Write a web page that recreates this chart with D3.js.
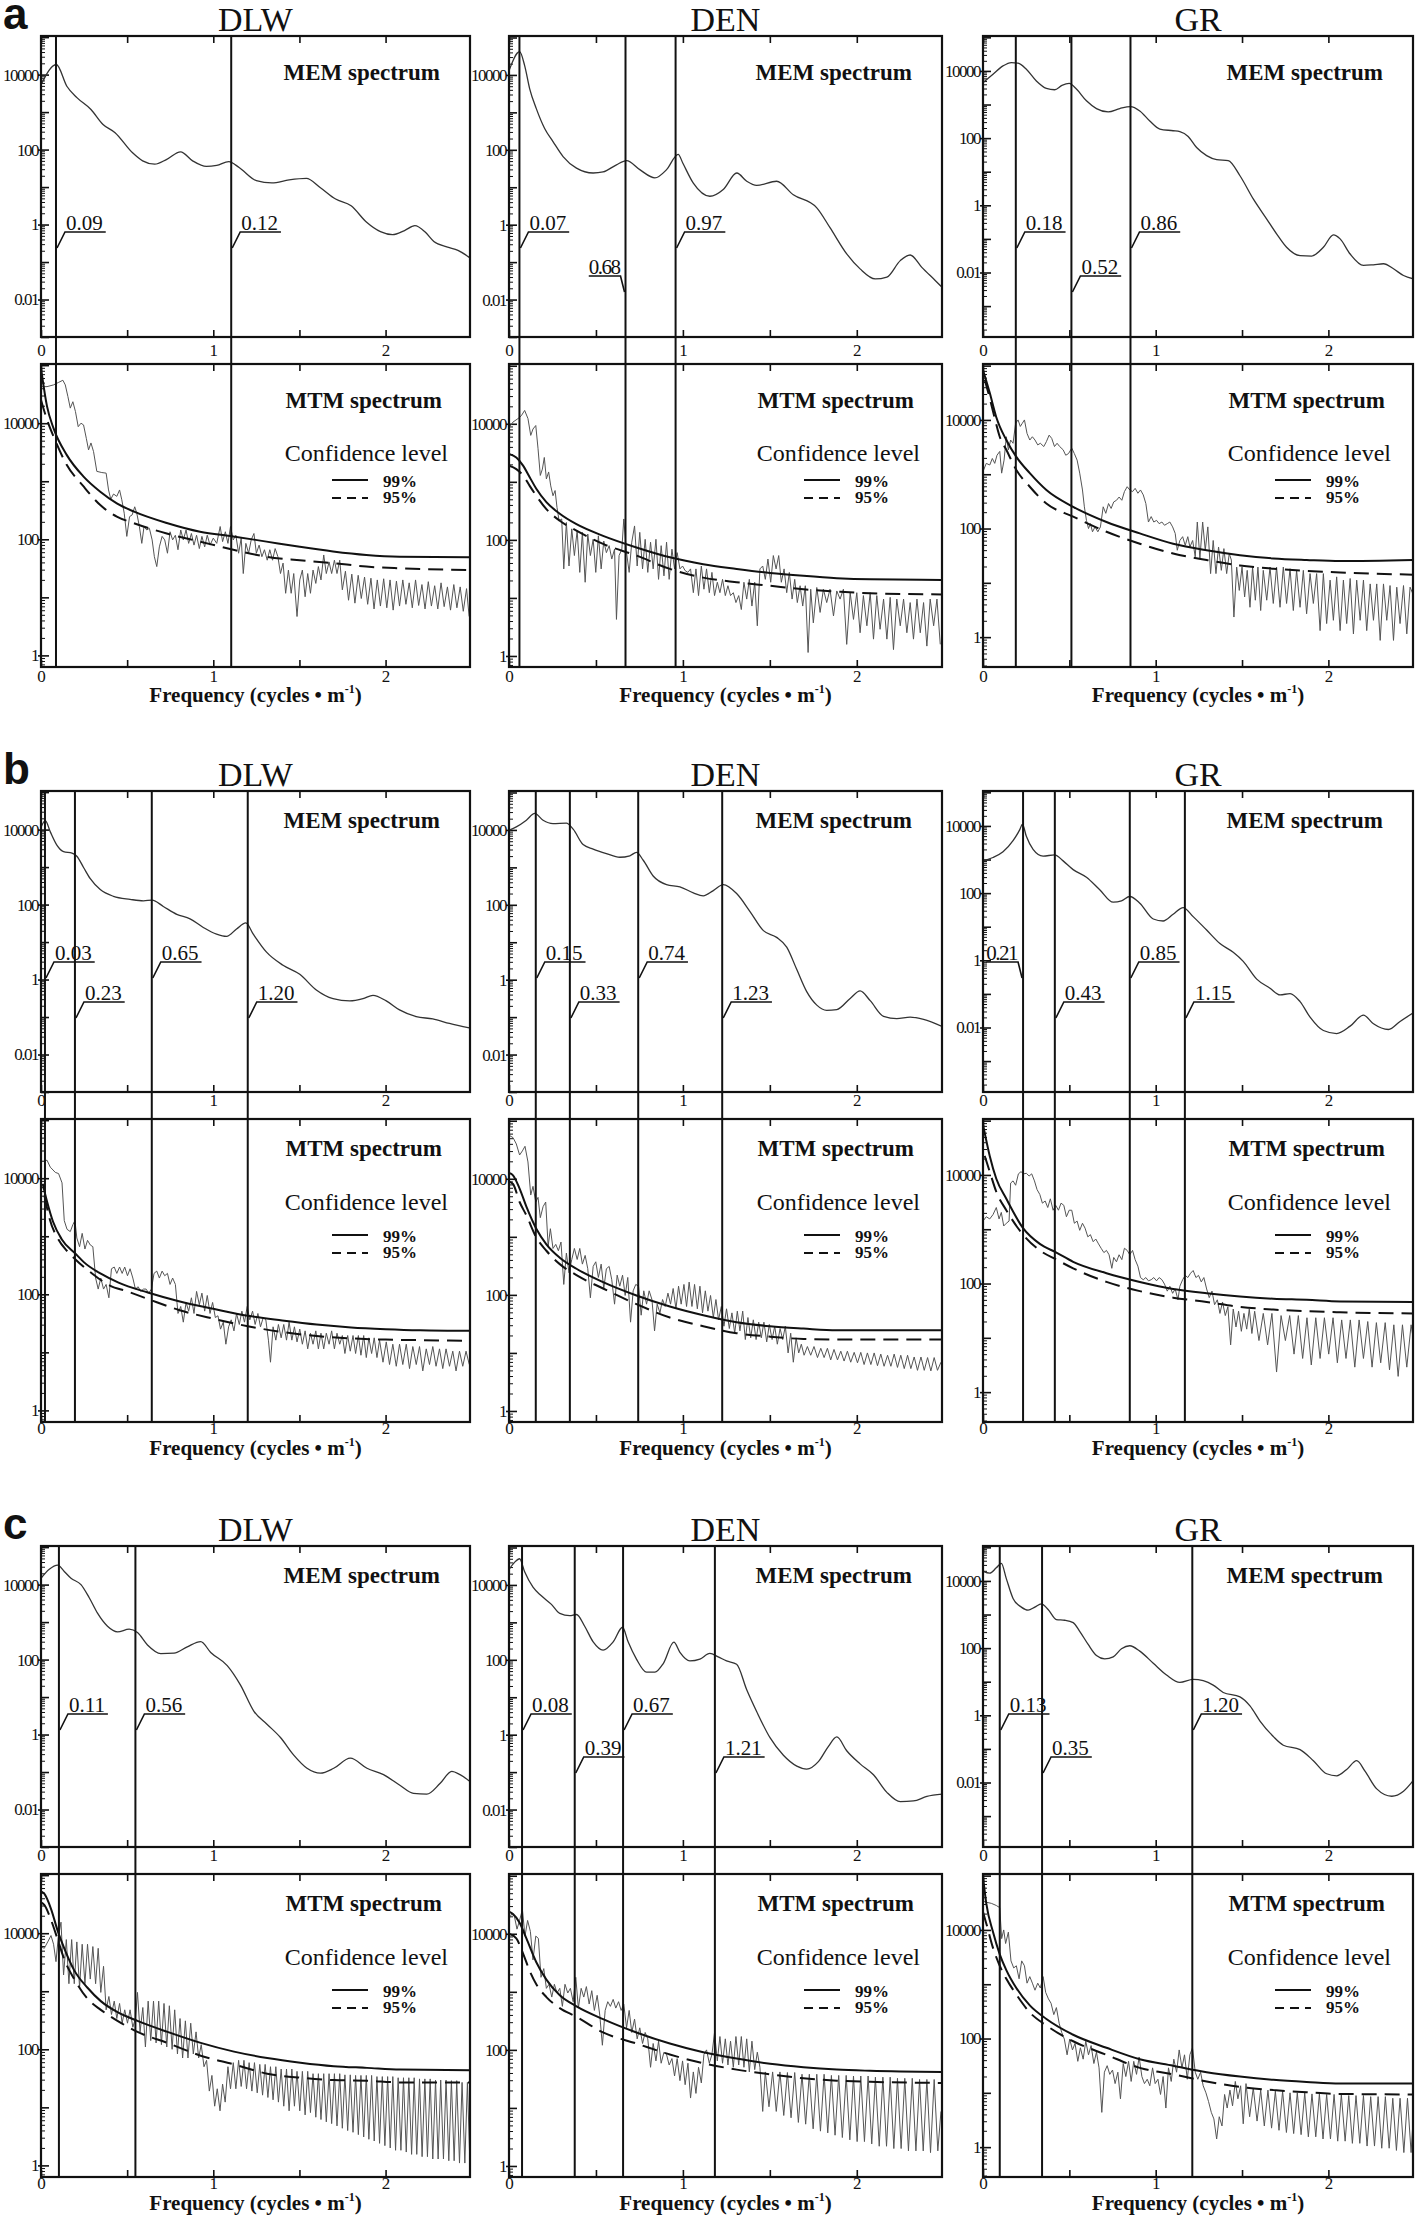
<!DOCTYPE html>
<html>
<head>
<meta charset="utf-8">
<script src="https://cdn.jsdelivr.net/npm/d3@7"></script>
<style>
body{margin:0;background:#fff}
svg{display:block}
text{font-family:"Liberation Serif","Times New Roman",serif;fill:#111}
.rowlab{font-family:"Liberation Sans",Arial,sans-serif;font-weight:bold;font-size:44px}
.site{font-size:34px;text-anchor:middle}
.ttl{font-size:23px;font-weight:bold;text-anchor:end}
.conf{font-size:24px;text-anchor:end}
.pct{font-size:17px;font-weight:bold}
.call{font-size:21px}
.freq{font-size:21px;font-weight:bold;text-anchor:middle}
</style>
</head>
<body>
<svg id="chart" width="1418" height="2217"></svg>
<script>
// all spectra, y values are log10(power)
var rowNames = ["a", "b", "c"];
var sites = ["DLW", "DEN", "GR"];
var xTickVals = [0, 0.5, 1, 1.5, 2];
var memLabTicks = [4, 2, 0, -2], memLabs = ["10000", "100", "1", "0.01"];
var mtmLabTicks = [4, 2, 0], mtmLabs = ["10000", "100", "1"];

// ---- MEM spectra
var mem_a_DLW = [[0,3.73],[.089,4.27],[.15,3.69],[.21,3.38],[.29,3.07],[.36,2.67],[.43,2.45],[.53,1.92],[.59,1.7],[.66,1.61],[.73,1.74],[.81,1.94],[.88,1.7],[.96,1.55],[1.02,1.58],[1.09,1.68],[1.15,1.52],[1.25,1.17],[1.34,1.11],[1.44,1.19],[1.54,1.23],[1.62,.99],[1.71,.68],[1.8,.5],[1.89,.06],[1.97,-.19],[2.04,-.27],[2.11,-.16],[2.17,-.03],[2.23,-.2],[2.28,-.45],[2.36,-.6],[2.42,-.69],[2.49,-.89]];
var mem_a_DEN = [[0,4.11],[.061,4.62],[.09,4.25],[.119,3.63],[.157,3.1],[.205,2.57],[.253,2.22],[.311,1.82],[.388,1.51],[.484,1.38],[.541,1.41],[.618,1.6],[.676,1.71],[.752,1.47],[.839,1.25],[.906,1.47],[.973,1.88],[1,1.64],[1.06,1.11],[1.155,.76],[1.232,.94],[1.31,1.38],[1.367,1.16],[1.424,1.05],[1.539,1.16],[1.635,.8],[1.77,.45],[1.846,-.08],[1.942,-.78],[2.019,-1.18],[2.106,-1.45],[2.173,-1.4],[2.25,-.96],[2.307,-.81],[2.374,-1.14],[2.451,-1.49],[2.49,-1.67]];
var mem_a_GR = [[0,3.65],[.058,3.9],[.116,4.15],[.164,4.25],[.203,4.23],[.251,4.05],[.309,3.7],[.367,3.48],[.415,3.44],[.457,3.57],[.499,3.63],[.541,3.46],[.599,3.11],[.657,2.88],[.725,2.78],[.792,2.88],[.854,2.94],[.908,2.81],[.966,2.51],[1.024,2.27],[1.101,2.22],[1.14,2.19],[1.188,2.05],[1.237,1.72],[1.295,1.48],[1.353,1.36],[1.42,1.33],[1.488,.88],[1.565,.19],[1.643,-.41],[1.7,-.85],[1.758,-1.25],[1.836,-1.5],[1.903,-1.51],[1.971,-1.25],[2.029,-.88],[2.068,-1],[2.126,-1.45],[2.203,-1.79],[2.261,-1.77],[2.319,-1.74],[2.377,-1.89],[2.435,-2.09],[2.493,-2.19]];
var mem_b_DLW = [[0,4.06],[.025,4.24],[.054,3.94],[.093,3.58],[.131,3.41],[.18,3.37],[.208,3.29],[.247,2.99],[.286,2.69],[.344,2.4],[.421,2.22],[.517,2.14],[.595,2.1],[.645,2.12],[.71,1.95],[.788,1.74],[.865,1.62],[.942,1.39],[1.019,1.21],[1.077,1.15],[1.135,1.35],[1.189,1.51],[1.232,1.21],[1.309,.73],[1.405,.38],[1.502,.14],[1.598,-.28],[1.695,-.51],[1.792,-.57],[1.869,-.51],[1.927,-.42],[2.004,-.57],[2.081,-.81],[2.178,-.99],[2.274,-1.05],[2.371,-1.17],[2.486,-1.29]];
var mem_b_DEN = [[0,3.99],[.042,4.08],[.1,4.26],[.148,4.44],[.196,4.26],[.253,4.17],[.33,4.18],[.369,4.02],[.426,3.61],[.484,3.49],[.56,3.37],[.637,3.27],[.695,3.31],[.733,3.4],[.772,3.19],[.829,2.77],[.906,2.54],[.983,2.48],[1.06,2.32],[1.117,2.24],[1.175,2.38],[1.232,2.54],[1.309,2.3],[1.386,1.82],[1.463,1.31],[1.539,1.13],[1.597,.87],[1.655,.27],[1.712,-.32],[1.77,-.68],[1.827,-.82],[1.885,-.8],[1.962,-.5],[2.019,-.3],[2.077,-.56],[2.154,-.98],[2.23,-1.04],[2.307,-1],[2.384,-1.06],[2.49,-1.25]];
var mem_b_GR = [[0,2.96],[.058,3.06],[.116,3.23],[.174,3.56],[.213,3.89],[.228,4.05],[.251,3.69],[.29,3.3],[.348,3.1],[.415,3.14],[.464,2.96],[.522,2.7],[.599,2.47],[.676,2.1],[.754,1.73],[.802,1.77],[.85,1.9],[.908,1.7],[.986,1.23],[1.043,1.17],[1.101,1.37],[1.159,1.57],[1.217,1.3],[1.295,.9],[1.372,.5],[1.449,.24],[1.507,-.03],[1.585,-.56],[1.662,-.83],[1.72,-1.03],[1.778,-.99],[1.836,-1.23],[1.894,-1.69],[1.971,-2.09],[2.048,-2.18],[2.126,-1.96],[2.203,-1.63],[2.261,-1.89],[2.348,-2.06],[2.415,-1.82],[2.493,-1.56]];
var mem_c_DLW = [[0,4.17],[.048,4.41],[.097,4.52],[.135,4.35],[.174,4.17],[.232,4],[.28,3.65],[.328,3.24],[.386,2.89],[.444,2.74],[.512,2.81],[.56,2.72],[.618,2.39],[.695,2.16],[.772,2.17],[.849,2.34],[.927,2.48],[.985,2.19],[1.081,1.84],[1.158,1.32],[1.236,.62],[1.313,.27],[1.39,-.08],[1.467,-.55],[1.544,-.9],[1.622,-1.03],[1.699,-.9],[1.795,-.63],[1.892,-.9],[1.988,-1.07],[2.085,-1.36],[2.162,-1.57],[2.239,-1.59],[2.317,-1.3],[2.384,-.98],[2.432,-1.07],[2.486,-1.24]];
var mem_c_DEN = [[0,4.41],[.033,4.61],[.061,4.7],[.09,4.35],[.138,3.94],[.186,3.71],[.244,3.48],[.292,3.24],[.349,3.18],[.388,3.21],[.436,2.89],[.484,2.48],[.541,2.26],[.599,2.48],[.653,2.87],[.685,2.48],[.733,2.02],[.791,1.67],[.839,1.67],[.887,1.9],[.948,2.47],[.983,2.2],[1.04,1.97],[1.098,2.02],[1.155,2.17],[1.203,2.08],[1.251,1.97],[1.309,1.88],[1.367,1.2],[1.424,.62],[1.501,-.08],[1.578,-.55],[1.655,-.84],[1.712,-.92],[1.779,-.72],[1.837,-.31],[1.885,-.06],[1.942,-.43],[2.019,-.78],[2.096,-1.07],[2.173,-1.54],[2.25,-1.79],[2.326,-1.77],[2.403,-1.65],[2.49,-1.59]];
var mem_c_GR = [[0,4.29],[.039,4.23],[.077,4.39],[.106,4.52],[.135,4.07],[.174,3.48],[.222,3.22],[.261,3.13],[.3,3.22],[.338,3.32],[.377,3.15],[.425,2.85],[.473,2.83],[.522,2.76],[.56,2.5],[.609,2.11],[.657,1.78],[.705,1.68],[.754,1.74],[.802,1.98],[.85,2.07],[.908,1.91],[.986,1.55],[1.063,1.2],[1.14,.98],[1.217,1.07],[1.275,1.03],[1.333,.9],[1.391,.68],[1.488,.55],[1.546,.28],[1.604,-.17],[1.681,-.63],[1.739,-.89],[1.836,-1.02],[1.913,-1.35],[1.99,-1.74],[2.048,-1.8],[2.106,-1.61],[2.164,-1.35],[2.213,-1.67],[2.28,-2.19],[2.367,-2.41],[2.435,-2.26],[2.493,-1.93]];

// ---- MTM spectra
var mtm_a_DLW = [[0,4.63],[.035,4.63],[.073,4.66],[.1,4.7],[.127,4.74],[.141,4.66],[.156,4.46],[.17,4.26],[.185,4.37],[.2,4.2],[.216,3.94],[.232,4],[.247,3.97],[.263,3.74],[.276,3.54],[.29,3.66],[.305,3.51],[.324,3.17],[.353,3.15],[.378,3.14],[.392,2.85],[.405,2.69],[.421,2.78],[.44,2.74],[.456,2.85],[.469,2.68],[.483,2.45],[.498,2.05],[.514,2.39],[.529,2.42],[.544,2.56],[.556,2.45],[.571,2.22],[.585,1.93],[.598,2.22],[.614,2.16],[.629,2.19],[.645,1.99],[.658,1.7],[.672,1.53],[.687,1.87],[.703,2.05],[.718,1.99],[.734,1.76],[.749,2.13],[.764,1.99],[.78,2.07],[.795,1.82],[.811,2.16],[.826,1.99],[.842,2.16],[.857,1.93],[.873,2.1],[.888,1.9],[.903,2.07],[.919,1.84],[.934,2.05],[.95,1.87],[.965,2.07],[.981,1.9],[1,2.02],[1.02,1.93],[1.04,2.22],[1.054,1.96],[1.07,2.13],[1.085,1.93],[1.1,2.22],[1.116,1.99],[1.131,2.07],[1.147,1.76],[1.162,2.02],[1.174,1.41],[1.189,1.93],[1.205,1.76],[1.22,1.99],[1.236,2.1],[1.25,1.76],[1.266,1.9],[1.282,1.7],[1.297,1.82],[1.313,1.64],[1.328,1.82],[1.344,1.64],[1.359,1.84],[1.375,1.7],[1.39,1.41],[1.405,1.59],[1.42,1.07],[1.436,1.47],[1.452,1.07],[1.467,1.41],[1.486,.67],[1.502,1.3],[1.517,1.47],[1.533,1.01],[1.548,1.41],[1.564,1.07],[1.579,1.47],[1.595,1.24],[1.61,1.53],[1.625,1.3],[1.641,1.73],[1.656,1.41],[1.672,1.61],[1.687,1.41],[1.703,1.64],[1.718,1.41],[1.734,1.64],[1.749,1.13],[1.767,1.45],[1.785,.95],[1.804,1.4],[1.822,.9],[1.841,1.38],[1.859,.98],[1.878,1.35],[1.896,.88],[1.915,1.33],[1.933,.8],[1.952,1.3],[1.97,.85],[1.989,1.32],[2.007,.82],[2.026,1.3],[2.044,.78],[2.063,1.28],[2.081,.85],[2.1,1.3],[2.118,.88],[2.137,1.25],[2.155,.82],[2.174,1.3],[2.192,.86],[2.211,1.22],[2.229,.8],[2.248,1.27],[2.266,.85],[2.285,1.2],[2.303,.8],[2.322,1.25],[2.34,.84],[2.359,1.18],[2.377,.78],[2.396,1.22],[2.414,.82],[2.433,1.18],[2.451,.76],[2.47,1.15],[2.485,.67]];
var mtm_a_DEN = [[0,3.94],[.023,4.03],[.052,4.09],[.071,4.14],[.09,4.23],[.109,4.09],[.125,3.8],[.138,3.91],[.154,3.97],[.167,3.57],[.18,3.11],[.192,3.22],[.203,3.42],[.215,3.05],[.228,3.17],[.24,2.93],[.253,2.76],[.265,2.85],[.276,2.56],[.288,2.33],[.303,2.36],[.315,1.5],[.33,2.3],[.345,1.55],[.361,2.19],[.376,1.73],[.392,2.16],[.407,1.44],[.422,2.13],[.438,1.27],[.453,2.1],[.468,1.73],[.484,2.01],[.499,1.44],[.514,2.07],[.53,1.5],[.545,1.98],[.56,1.78],[.576,1.9],[.591,1.67],[.607,1.84],[.618,.63],[.633,1.73],[.649,1.84],[.66,2.36],[.676,1.78],[.691,1.44],[.706,1.96],[.722,2.24],[.737,1.55],[.752,2.13],[.768,1.5],[.783,2.01],[.798,1.44],[.814,1.96],[.829,1.5],[.845,2.01],[.86,1.32],[.875,1.9],[.891,1.38],[.906,1.96],[.921,1.32],[.937,1.84],[.952,1.5],[.967,1.78],[.983,1.5],[.998,1.55],[1.013,1.47],[1.029,1.44],[1.044,1.5],[1.06,1.09],[1.075,1.5],[1.09,1.04],[1.106,1.55],[1.121,1.15],[1.136,1.5],[1.152,1.09],[1.167,1.44],[1.182,1.04],[1.198,1.27],[1.213,1.09],[1.228,1.32],[1.244,1.04],[1.259,1.21],[1.274,1.04],[1.29,1.09],[1.305,.92],[1.321,1.04],[1.336,.8],[1.351,1.27],[1.367,.98],[1.382,1.32],[1.397,.86],[1.413,1.27],[1.428,.52],[1.443,1.5],[1.459,1.55],[1.474,1.32],[1.489,1.67],[1.505,1.27],[1.52,1.73],[1.536,1.5],[1.551,1.73],[1.566,1.27],[1.582,1.5],[1.597,1.09],[1.612,1.44],[1.628,.98],[1.643,1.32],[1.658,.92],[1.674,1.21],[1.689,.86],[1.704,1.21],[1.72,.06],[1.735,1.15],[1.75,.57],[1.77,1.18],[1.789,.75],[1.808,1.15],[1.827,.92],[1.846,1.15],[1.866,.69],[1.885,1.12],[1.904,.98],[1.923,1.15],[1.942,.2],[1.962,1.09],[1.981,.63],[2,1.09],[2.019,.4],[2.038,1.04],[2.058,.52],[2.077,1.09],[2.096,.29],[2.115,1.04],[2.134,.46],[2.154,.98],[2.173,.29],[2.192,1.01],[2.211,.11],[2.23,.98],[2.25,.52],[2.269,.98],[2.288,.4],[2.307,.92],[2.326,.29],[2.346,.98],[2.365,.4],[2.384,.92],[2.403,.17],[2.422,.98],[2.442,.52],[2.461,.98],[2.48,.2]];
var mtm_a_GR = [[0,3.05],[.019,3.2],[.039,3.17],[.054,3.29],[.068,3.2],[.081,3.35],[.097,3.42],[.108,3.02],[.122,3.26],[.135,3.69],[.147,3.45],[.16,3.63],[.174,3.57],[.189,3.94],[.203,4],[.216,3.88],[.228,3.94],[.24,4],[.255,3.75],[.271,3.63],[.286,3.69],[.301,3.63],[.317,3.54],[.332,3.57],[.352,3.51],[.367,3.6],[.383,3.72],[.398,3.66],[.414,3.51],[.429,3.57],[.444,3.51],[.464,3.45],[.479,3.35],[.495,3.38],[.514,3.48],[.529,3.38],[.545,3.26],[.56,3.02],[.576,2.71],[.587,2.4],[.599,2.15],[.611,2],[.622,2.09],[.634,1.94],[.649,2.03],[.665,1.94],[.68,2.03],[.696,2.4],[.711,2.28],[.727,2.46],[.742,2.37],[.757,2.49],[.773,2.52],[.788,2.58],[.804,2.52],[.819,2.68],[.835,2.77],[.85,2.71],[.866,2.68],[.881,2.74],[.897,2.65],[.912,2.71],[.928,2.62],[.943,2.46],[.958,2.12],[.974,2.22],[.989,2.12],[1.005,2.15],[1.02,2.09],[1.036,2.12],[1.051,2.06],[1.067,2.09],[1.082,2.12],[1.098,2.03],[1.113,1.91],[1.125,1.6],[1.14,1.78],[1.156,1.85],[1.171,1.69],[1.186,1.85],[1.198,1.66],[1.214,1.78],[1.229,1.48],[1.241,2.12],[1.256,1.45],[1.272,2.12],[1.287,1.6],[1.302,2.03],[1.318,1.17],[1.333,1.78],[1.349,1.17],[1.364,1.66],[1.38,1.23],[1.395,1.63],[1.411,1.17],[1.426,1.54],[1.438,1.42],[1.453,.37],[1.469,1.29],[1.484,.86],[1.5,1.29],[1.515,.74],[1.53,1.23],[1.546,.55],[1.561,1.29],[1.577,.68],[1.592,1.29],[1.608,.49],[1.623,1.23],[1.643,.68],[1.662,1.29],[1.681,.62],[1.7,1.29],[1.72,.55],[1.739,1.29],[1.758,.62],[1.778,1.26],[1.797,.49],[1.816,1.23],[1.836,.55],[1.855,1.23],[1.874,.43],[1.894,1.17],[1.913,.62],[1.932,1.17],[1.952,.12],[1.971,1.17],[1.99,.25],[2.01,1.05],[2.029,.31],[2.048,1.11],[2.068,.12],[2.087,1.05],[2.106,.25],[2.126,1.08],[2.145,.06],[2.164,1.05],[2.184,.31],[2.203,1.05],[2.222,.12],[2.242,.98],[2.261,.31],[2.28,.98],[2.3,-.06],[2.319,.98],[2.338,.31],[2.357,.95],[2.377,-.06],[2.396,.92],[2.415,.25],[2.435,.95],[2.454,.06],[2.473,.92],[2.489,.8]];
var mtm_b_DLW = [[.02,4.3],[.035,4.31],[.054,4.19],[.083,4.1],[.102,4.08],[.122,3.92],[.135,3.27],[.151,3.12],[.17,3.08],[.185,3.2],[.197,3.27],[.208,2.97],[.224,2.82],[.239,3.05],[.255,2.78],[.27,2.93],[.286,2.85],[.301,2.82],[.317,2.28],[.332,2.09],[.347,2.28],[.363,2.09],[.378,2.17],[.394,1.94],[.409,2.44],[.425,2.47],[.44,2.36],[.456,2.47],[.471,2.36],[.486,2.47],[.502,2.32],[.517,2.44],[.533,2.28],[.548,2.09],[.564,2.13],[.579,2.05],[.595,2.09],[.61,2.09],[.625,2.02],[.641,2.09],[.656,2.36],[.672,2.4],[.687,2.28],[.703,2.4],[.718,2.32],[.734,2.36],[.749,2.17],[.764,2.28],[.78,2.17],[.795,1.67],[.811,1.79],[.826,1.52],[.842,1.86],[.857,1.71],[.873,1.94],[.888,1.67],[.903,2.05],[.919,1.82],[.934,2.02],[.95,1.71],[.965,1.98],[.981,1.67],[.996,1.86],[1.012,1.6],[1.027,1.63],[1.042,1.4],[1.058,1.52],[1.073,1.14],[1.089,1.44],[1.104,1.56],[1.12,1.37],[1.135,1.67],[1.151,1.48],[1.166,1.71],[1.181,1.52],[1.197,1.79],[1.212,1.56],[1.228,1.71],[1.243,1.48],[1.259,1.67],[1.274,1.44],[1.29,1.6],[1.305,1.56],[1.32,1.21],[1.332,.83],[1.347,1.44],[1.363,1.21],[1.378,1.48],[1.394,1.25],[1.409,1.48],[1.425,1.21],[1.44,1.52],[1.456,1.21],[1.471,1.44],[1.486,1.18],[1.502,1.4],[1.517,1.14],[1.533,1.37],[1.548,1.06],[1.564,1.33],[1.579,1.14],[1.595,1.37],[1.61,1.06],[1.625,1.33],[1.641,1.06],[1.656,1.33],[1.672,1.14],[1.687,1.37],[1.703,1.06],[1.718,1.33],[1.734,1.14],[1.749,1.29],[1.764,.98],[1.78,1.29],[1.795,1.02],[1.811,1.29],[1.826,.98],[1.842,1.29],[1.857,.95],[1.873,1.29],[1.888,.91],[1.903,1.25],[1.919,.98],[1.934,1.25],[1.95,.91],[1.965,1.21],[1.985,.83],[2.004,1.18],[2.023,.79],[2.042,1.14],[2.062,.76],[2.081,1.14],[2.1,.79],[2.12,1.14],[2.139,.72],[2.158,1.1],[2.178,.79],[2.197,1.1],[2.216,.68],[2.236,1.06],[2.255,.79],[2.274,1.1],[2.293,.76],[2.313,1.06],[2.332,.72],[2.351,1.06],[2.371,.76],[2.39,1.02],[2.409,.68],[2.429,1.02],[2.448,.76],[2.467,1.02],[2.486,.79]];
var mtm_b_DEN = [[0,4.75],[.023,4.71],[.042,4.6],[.061,4.41],[.077,4.48],[.092,4.56],[.109,4.29],[.125,3.72],[.138,3.87],[.154,3.6],[.167,3.68],[.18,3.33],[.196,3.52],[.211,3.6],[.225,2.84],[.238,3.14],[.253,2.8],[.269,2.87],[.284,2.76],[.299,2.91],[.315,2.18],[.33,2.72],[.345,2.38],[.361,2.61],[.376,2.8],[.392,2.61],[.407,2.8],[.422,2.53],[.438,2.68],[.453,2.45],[.468,1.95],[.484,2.49],[.499,2.57],[.514,2.3],[.53,2.53],[.545,2.11],[.56,2.45],[.576,2.49],[.591,2.26],[.607,1.84],[.622,2.34],[.637,2.15],[.653,2.34],[.668,1.99],[.683,2.3],[.699,1.53],[.714,2.07],[.729,2.18],[.745,2.15],[.76,1.65],[.775,2.07],[.791,1.84],[.806,2.07],[.822,1.92],[.837,1.38],[.852,1.84],[.868,1.69],[.883,1.92],[.898,1.8],[.914,2.03],[.929,1.84],[.944,2.11],[.96,1.76],[.975,2.15],[.99,1.84],[1.006,2.18],[1.021,1.8],[1.036,2.22],[1.052,1.8],[1.067,2.18],[1.083,1.76],[1.098,2.15],[1.113,1.69],[1.129,2.07],[1.144,1.72],[1.159,1.99],[1.175,1.61],[1.19,1.92],[1.205,1.57],[1.221,1.8],[1.236,1.46],[1.251,1.76],[1.267,1.42],[1.282,1.69],[1.298,1.34],[1.313,1.72],[1.328,1.38],[1.344,1.72],[1.359,1.23],[1.374,1.61],[1.39,1.26],[1.405,1.57],[1.421,1.23],[1.436,1.53],[1.451,1.26],[1.466,1.53],[1.482,1.19],[1.497,1.49],[1.513,1.23],[1.528,1.46],[1.543,1.15],[1.559,1.42],[1.574,1.23],[1.589,1.46],[1.605,1],[1.62,1.34],[1.635,.84],[1.651,1.26],[1.666,1],[1.681,1.15],[1.697,.96],[1.716,1.11],[1.735,.96],[1.754,1.11],[1.774,.92],[1.793,1.08],[1.812,.92],[1.831,1.08],[1.85,.88],[1.869,1.06],[1.889,.88],[1.908,1.03],[1.927,.86],[1.946,1.03],[1.965,.84],[1.985,1.01],[2.004,.83],[2.023,1.01],[2.042,.8],[2.061,1],[2.081,.8],[2.1,1],[2.119,.78],[2.138,.98],[2.157,.77],[2.177,.96],[2.196,.77],[2.215,.98],[2.234,.75],[2.253,.96],[2.273,.73],[2.292,.96],[2.311,.73],[2.33,.93],[2.349,.7],[2.369,.93],[2.388,.7],[2.407,.92],[2.426,.69],[2.445,.92],[2.464,.7],[2.484,.84]];
var mtm_b_GR = [[0,3.15],[.019,3.23],[.039,3.19],[.058,3.27],[.077,3.4],[.093,3.19],[.106,3.31],[.12,3.06],[.135,3.11],[.151,3.15],[.16,3.85],[.174,3.89],[.189,3.81],[.205,4.02],[.22,4.06],[.236,4.02],[.251,4.03],[.267,3.98],[.282,4.02],[.298,3.89],[.313,3.73],[.329,3.64],[.344,3.48],[.36,3.52],[.375,3.4],[.39,3.56],[.406,3.35],[.421,3.44],[.437,3.35],[.452,3.48],[.468,3.44],[.483,3.23],[.499,3.35],[.514,3.35],[.529,3.11],[.545,3.15],[.56,2.98],[.576,3.11],[.591,3.02],[.607,2.86],[.622,2.9],[.638,2.77],[.653,2.82],[.669,2.73],[.684,2.65],[.7,2.57],[.715,2.61],[.73,2.53],[.746,2.28],[.757,2.48],[.773,2.4],[.788,2.53],[.804,2.44],[.819,2.65],[.835,2.61],[.85,2.53],[.866,2.61],[.881,2.44],[.897,2.32],[.912,2.11],[.928,2.07],[.943,2.11],[.958,2.05],[.974,2.07],[.989,2.11],[1.005,2.05],[1.02,2.11],[1.036,2.07],[1.051,1.99],[1.067,1.86],[1.082,1.95],[1.098,1.82],[1.113,1.9],[1.129,1.7],[1.14,1.95],[1.156,2.07],[1.171,2.15],[1.186,2.11],[1.202,2.19],[1.217,2.24],[1.233,2.11],[1.248,2.15],[1.264,2.03],[1.279,2.11],[1.295,1.9],[1.31,1.74],[1.326,1.86],[1.341,1.61],[1.357,1.7],[1.372,1.45],[1.387,1.66],[1.403,1.41],[1.418,1.57],[1.434,.87],[1.449,1.53],[1.465,1.2],[1.48,1.49],[1.496,1.12],[1.511,1.45],[1.527,1.16],[1.542,1.53],[1.557,1.08],[1.573,1.49],[1.598,.95],[1.623,1.45],[1.648,.87],[1.673,1.45],[1.7,.37],[1.726,1.41],[1.751,.95],[1.776,1.41],[1.801,.7],[1.826,1.41],[1.851,.62],[1.876,1.37],[1.901,.5],[1.927,1.37],[1.952,.62],[1.977,1.37],[2.002,.7],[2.027,1.37],[2.052,.54],[2.077,1.33],[2.102,.62],[2.127,1.33],[2.153,.46],[2.178,1.33],[2.203,.62],[2.228,1.3],[2.253,.46],[2.278,1.28],[2.303,.54],[2.329,1.28],[2.354,.41],[2.379,1.24],[2.404,.29],[2.429,1.24],[2.454,.46],[2.479,1.24],[2.493,.95]];
var mtm_c_DLW = [[0,3.77],[.019,3.74],[.039,3.85],[.058,3.96],[.073,3.81],[.087,3.51],[.1,3.92],[.116,4.19],[.131,3.28],[.147,3.89],[.162,3.13],[.178,3.89],[.193,3.13],[.208,3.85],[.224,3.06],[.239,3.81],[.255,3.13],[.27,3.81],[.286,3.21],[.301,3.77],[.317,3.13],[.332,3.74],[.347,2.98],[.363,3.43],[.378,2.68],[.394,2.91],[.409,2.6],[.425,2.83],[.44,2.53],[.456,2.79],[.471,2.45],[.486,2.68],[.502,2.45],[.517,2.68],[.533,2.38],[.548,2.53],[.56,2.98],[.575,2.3],[.591,2.72],[.606,2.04],[.622,2.83],[.637,2.15],[.653,2.83],[.668,2.11],[.683,2.83],[.699,2.08],[.714,2.79],[.73,2.04],[.745,2.75],[.761,2],[.776,2.68],[.792,1.92],[.807,2.53],[.822,1.85],[.838,2.49],[.853,1.85],[.869,2.45],[.884,1.92],[.9,2.3],[.915,1.85],[.93,2.08],[.946,1.7],[.961,1.81],[.977,1.28],[.992,1.55],[1.008,1.02],[1.023,1.32],[1.039,.94],[1.054,1.4],[1.069,1.09],[1.085,1.7],[1.1,1.32],[1.116,1.77],[1.131,1.32],[1.147,1.81],[1.162,1.36],[1.178,1.81],[1.193,1.32],[1.208,1.77],[1.224,1.28],[1.239,1.77],[1.255,1.25],[1.27,1.74],[1.286,1.21],[1.301,1.74],[1.317,1.17],[1.332,1.7],[1.347,1.13],[1.363,1.7],[1.378,1.09],[1.394,1.66],[1.409,1.02],[1.425,1.66],[1.44,.94],[1.456,1.66],[1.471,1.02],[1.486,1.62],[1.502,.94],[1.517,1.62],[1.533,.87],[1.548,1.62],[1.564,.91],[1.579,1.58],[1.595,.83],[1.61,1.58],[1.625,.79],[1.641,1.58],[1.656,.75],[1.672,1.58],[1.687,.72],[1.703,1.58],[1.718,.68],[1.734,1.58],[1.749,.64],[1.764,1.56],[1.78,.6],[1.795,1.56],[1.811,.57],[1.826,1.55],[1.842,.53],[1.857,1.55],[1.873,.49],[1.888,1.55],[1.903,.45],[1.919,1.55],[1.934,.42],[1.95,1.53],[1.965,.38],[1.981,1.53],[1.996,.34],[2.012,1.53],[2.027,.3],[2.042,1.53],[2.058,.26],[2.073,1.51],[2.089,.26],[2.104,1.51],[2.12,.23],[2.135,1.51],[2.151,.19],[2.166,1.51],[2.181,.19],[2.197,1.49],[2.212,.15],[2.228,1.49],[2.243,.15],[2.259,1.49],[2.274,.11],[2.29,1.47],[2.305,.11],[2.32,1.47],[2.336,.11],[2.351,1.47],[2.367,.08],[2.382,1.46],[2.398,.08],[2.413,1.46],[2.429,.04],[2.444,1.43],[2.46,.04],[2.475,1.43],[2.49,-.04]];
var mtm_c_DEN = [[0,4.26],[.015,4.34],[.031,4.3],[.046,4.08],[.061,4.23],[.077,4.42],[.092,3.96],[.107,4.23],[.123,4.04],[.138,3.55],[.154,3.96],[.169,3.92],[.184,3.25],[.2,3.4],[.215,3.06],[.23,3.13],[.246,2.91],[.261,3.13],[.276,2.98],[.292,3.06],[.307,2.75],[.322,3.13],[.338,2.98],[.353,3.06],[.369,2.83],[.384,3.25],[.399,2.72],[.415,3.06],[.43,2.91],[.445,3.09],[.461,2.79],[.476,3.02],[.491,2.68],[.507,2.94],[.522,2.6],[.537,2.08],[.553,2.68],[.568,2.83],[.583,2.75],[.599,2.87],[.614,2.72],[.63,2.83],[.645,2.68],[.66,2.79],[.676,2.38],[.691,2.68],[.706,2.3],[.722,2.53],[.737,2.19],[.752,2.38],[.768,2.11],[.783,2.3],[.798,2.19],[.814,1.7],[.829,2.11],[.845,1.81],[.86,2.15],[.875,1.77],[.891,1.96],[.906,1.92],[.921,1.74],[.937,1.85],[.952,1.55],[.967,1.85],[.983,1.47],[.998,1.81],[1.013,1.4],[1.029,1.77],[1.044,1.17],[1.06,1.62],[1.075,1.25],[1.09,1.7],[1.106,1.43],[1.121,1.92],[1.136,2],[1.152,1.77],[1.167,1.92],[1.182,2.3],[1.198,1.81],[1.213,2.23],[1.228,1.77],[1.244,2.19],[1.259,1.74],[1.274,2.15],[1.29,1.7],[1.305,2.23],[1.321,1.74],[1.336,2.23],[1.351,1.7],[1.367,2.19],[1.382,1.62],[1.397,2.15],[1.413,1.66],[1.428,1.96],[1.443,1.7],[1.459,.94],[1.474,1.62],[1.495,1.02],[1.516,1.62],[1.537,.94],[1.558,1.62],[1.58,.87],[1.601,1.61],[1.622,.83],[1.643,1.61],[1.664,.75],[1.685,1.58],[1.706,.72],[1.727,1.58],[1.749,.64],[1.77,1.58],[1.791,.6],[1.812,1.58],[1.833,.57],[1.854,1.56],[1.875,.53],[1.896,1.56],[1.917,.49],[1.939,1.56],[1.96,.45],[1.981,1.55],[2.002,.42],[2.023,1.55],[2.044,.42],[2.065,1.55],[2.086,.38],[2.107,1.53],[2.129,.34],[2.15,1.53],[2.171,.34],[2.192,1.53],[2.213,.3],[2.234,1.51],[2.255,.3],[2.276,1.51],[2.297,.26],[2.319,1.51],[2.34,.26],[2.361,1.49],[2.382,.26],[2.403,1.49],[2.424,.23],[2.445,1.49],[2.466,.26],[2.484,.94]];
var mtm_c_GR = [[0,4.53],[.019,4.51],[.048,4.49],[.077,4.45],[.097,4.41],[.108,3.84],[.12,4],[.131,3.75],[.147,3.96],[.162,3.43],[.178,3.3],[.193,3.34],[.209,3.1],[.224,3.43],[.24,3.34],[.255,3.02],[.271,3.14],[.286,3.02],[.301,2.89],[.317,3.02],[.332,2.93],[.348,3.14],[.363,2.85],[.379,2.73],[.394,2.65],[.41,2.44],[.425,2.57],[.441,2.28],[.456,2.11],[.471,1.99],[.487,1.7],[.502,1.99],[.518,1.79],[.533,1.91],[.549,1.58],[.564,1.83],[.58,1.62],[.595,1.95],[.611,1.7],[.626,1.87],[.642,1.54],[.657,1.75],[.672,1.46],[.688,.64],[.703,1.38],[.719,1.5],[.734,1.34],[.75,1.42],[.765,1.17],[.781,1.38],[.796,.89],[.812,1.54],[.827,1.3],[.843,1.58],[.858,1.21],[.873,1.58],[.889,1.34],[.904,1.66],[.92,1.3],[.935,1.17],[.951,1.25],[.966,1.13],[.982,1.46],[.997,1.17],[1.013,1.25],[1.028,.97],[1.043,1.3],[1.059,.72],[1.074,1.46],[1.09,1.21],[1.105,1.62],[1.121,1.38],[1.136,1.79],[1.152,1.46],[1.167,1.7],[1.183,1.25],[1.198,1.7],[1.213,1.83],[1.229,1.38],[1.244,1.25],[1.26,1.38],[1.275,1.13],[1.291,1],[1.306,.84],[1.322,.64],[1.337,.52],[1.353,.15],[1.368,.56],[1.384,.39],[1.399,.97],[1.414,.72],[1.43,1.05],[1.445,.76],[1.461,1.21],[1.476,.89],[1.492,1.13],[1.507,.43],[1.523,1.17],[1.544,.56],[1.565,1.09],[1.587,.48],[1.608,1.05],[1.629,.39],[1.65,1.05],[1.671,.35],[1.693,1.03],[1.714,.31],[1.735,1.03],[1.757,.27],[1.778,1],[1.799,.25],[1.82,1],[1.842,.23],[1.863,1],[1.884,.19],[1.905,.98],[1.927,.19],[1.948,.98],[1.969,.15],[1.99,.97],[2.012,.15],[2.033,.97],[2.054,.11],[2.075,.97],[2.097,.11],[2.118,.95],[2.139,.07],[2.16,.95],[2.182,.07],[2.203,.95],[2.224,.02],[2.245,.93],[2.267,.02],[2.288,.93],[2.309,-.02],[2.33,.93],[2.352,-.02],[2.373,.9],[2.394,-.06],[2.415,.9],[2.437,-.1],[2.458,.9],[2.479,-.1],[2.493,.64]];

// ---- MTM confidence levels (99% solid, 95% dashed)
var c99_a_DLW = [[0,4.95],[.035,4.29],[.073,3.91],[.15,3.45],[.247,3.08],[.344,2.82],[.44,2.62],[.537,2.48],[.73,2.28],[.923,2.13],[1.116,2.05],[1.309,1.96],[1.502,1.87],[1.695,1.79],[1.888,1.73],[2.081,1.7],[2.486,1.69]];
var c95_a_DLW = [[0,4.4],[.035,4.06],[.073,3.77],[.15,3.28],[.247,2.91],[.344,2.59],[.44,2.39],[.537,2.28],[.73,2.1],[.923,1.96],[1.116,1.82],[1.309,1.7],[1.502,1.64],[1.695,1.59],[1.888,1.53],[2.081,1.5],[2.486,1.47]];
var c99_a_DEN = [[0,3.48],[.042,3.42],[.081,3.28],[.119,3.08],[.157,2.88],[.215,2.65],[.292,2.45],[.388,2.27],[.541,2.07],[.733,1.87],[.925,1.7],[1.117,1.58],[1.309,1.5],[1.501,1.43],[1.693,1.38],[1.885,1.34],[2.077,1.32],[2.49,1.31]];
var c95_a_DEN = [[0,3.28],[.042,3.22],[.081,3.11],[.119,2.93],[.157,2.76],[.215,2.53],[.292,2.33],[.388,2.16],[.541,1.93],[.733,1.73],[.925,1.5],[1.117,1.35],[1.309,1.27],[1.501,1.21],[1.693,1.15],[1.885,1.11],[2.077,1.08],[2.49,1.06]];
var c99_a_GR = [[0,4.92],[.039,4.5],[.077,4.05],[.135,3.63],[.193,3.32],[.271,3.02],[.367,2.71],[.522,2.4],[.715,2.12],[.908,1.91],[1.101,1.72],[1.295,1.6],[1.488,1.51],[1.681,1.45],[1.874,1.42],[2.068,1.4],[2.493,1.42]];
var c95_a_GR = [[.01,4.74],[.039,4.4],[.068,4.03],[.097,3.69],[.135,3.45],[.193,3.08],[.271,2.77],[.367,2.46],[.522,2.22],[.715,1.94],[.908,1.72],[1.101,1.54],[1.295,1.42],[1.488,1.32],[1.681,1.26],[1.874,1.22],[2.068,1.19],[2.493,1.15]];
var c99_b_DLW = [[.01,3.9],[.035,3.6],[.07,3.25],[.12,2.95],[.2,2.7],[.25,2.55],[.35,2.35],[.45,2.2],[.62,2.03],[.8,1.88],[1,1.75],[1.2,1.63],[1.4,1.55],[1.6,1.48],[1.8,1.43],[2,1.4],[2.2,1.38],[2.49,1.37]];
var c95_b_DLW = [[.02,3.7],[.05,3.3],[.1,2.95],[.15,2.75],[.2,2.6],[.3,2.35],[.4,2.15],[.5,2.05],[.62,1.92],[.8,1.73],[1,1.58],[1.2,1.45],[1.4,1.35],[1.6,1.28],[1.8,1.24],[2,1.22],[2.2,1.21],[2.49,1.2]];
var c99_b_DEN = [[0,4.1],[.023,4.06],[.061,3.83],[.1,3.52],[.157,3.14],[.215,2.87],[.292,2.64],[.388,2.45],[.541,2.22],[.733,1.99],[.925,1.8],[1.117,1.65],[1.309,1.53],[1.501,1.46],[1.693,1.42],[1.885,1.39],[2.49,1.39]];
var c95_b_DEN = [[0,3.95],[.023,3.91],[.061,3.6],[.1,3.37],[.157,2.99],[.215,2.76],[.292,2.53],[.388,2.34],[.541,2.11],[.733,1.84],[.925,1.61],[1.117,1.46],[1.309,1.34],[1.501,1.28],[1.693,1.24],[1.885,1.23],[2.49,1.23]];
var c99_b_GR = [[0,4.93],[.039,4.35],[.077,3.93],[.135,3.56],[.232,3.02],[.329,2.73],[.425,2.57],[.522,2.4],[.715,2.19],[.908,2.03],[1.101,1.9],[1.295,1.82],[1.488,1.76],[1.681,1.72],[1.874,1.7],[2.068,1.67],[2.493,1.66]];
var c95_b_GR = [[.01,4.35],[.039,4.06],[.077,3.69],[.135,3.35],[.232,2.9],[.329,2.61],[.425,2.44],[.522,2.28],[.715,2.03],[.908,1.86],[1.101,1.74],[1.295,1.66],[1.488,1.57],[1.681,1.52],[1.874,1.49],[2.068,1.47],[2.493,1.45]];
var c99_c_DLW = [[0,4.72],[.019,4.68],[.058,4.42],[.097,4.04],[.135,3.74],[.193,3.36],[.27,3.06],[.347,2.83],[.444,2.64],[.56,2.49],[.734,2.3],[.927,2.11],[1.12,1.96],[1.313,1.85],[1.506,1.77],[1.699,1.71],[1.892,1.68],[2.085,1.65],[2.49,1.64]];
var c95_c_DLW = [[0,4.53],[.019,4.49],[.058,4.23],[.097,3.89],[.135,3.55],[.193,3.21],[.27,2.87],[.347,2.68],[.444,2.49],[.56,2.3],[.734,2.11],[.927,1.89],[1.12,1.74],[1.313,1.58],[1.506,1.51],[1.699,1.47],[1.892,1.46],[2.085,1.43],[2.49,1.43]];
var c99_c_DEN = [[0,4.38],[.023,4.34],[.061,4.19],[.1,3.92],[.157,3.51],[.215,3.21],[.292,2.94],[.388,2.75],[.541,2.53],[.733,2.3],[.925,2.11],[1.117,1.96],[1.309,1.85],[1.501,1.76],[1.693,1.7],[1.885,1.66],[2.077,1.64],[2.49,1.62]];
var c95_c_DEN = [[0,4],[.042,3.92],[.081,3.66],[.119,3.36],[.157,3.13],[.215,2.91],[.292,2.72],[.388,2.57],[.541,2.3],[.733,2.11],[.925,1.92],[1.117,1.77],[1.309,1.66],[1.501,1.58],[1.693,1.51],[1.885,1.47],[2.077,1.45],[2.49,1.43]];
var c99_c_GR = [[0,4.98],[.019,4.49],[.058,3.96],[.097,3.55],[.135,3.26],[.193,2.93],[.271,2.61],[.367,2.36],[.522,2.07],[.715,1.83],[.908,1.62],[1.101,1.5],[1.295,1.38],[1.488,1.3],[1.681,1.24],[1.874,1.2],[2.068,1.17],[2.493,1.17]];
var c95_c_GR = [[0,4.33],[.019,4.12],[.058,3.67],[.097,3.34],[.135,3.1],[.193,2.81],[.271,2.48],[.367,2.24],[.522,1.95],[.715,1.7],[.908,1.46],[1.101,1.34],[1.295,1.21],[1.488,1.11],[1.681,1.05],[1.874,1.01],[2.068,.98],[2.493,.97]];

// ---- marked frequencies: [frequency, label, 0 = upper / 1 = lower tag, side]
var mk_a_DLW = [[.087,"0.09",0,1],[1.104,"0.12",0,1]];
var mk_a_DEN = [[.06,"0.07",0,1],[.67,"0.68",1,-1],[.958,"0.97",0,1]];
var mk_a_GR = [[.19,"0.18",0,1],[.512,"0.52",1,1],[.854,"0.86",0,1]];
var mk_b_DLW = [[.023,"0.03",0,1],[.197,"0.23",1,1],[.643,"0.65",0,1],[1.2,"1.20",1,1]];
var mk_b_DEN = [[.154,"0.15",0,1],[.35,"0.33",1,1],[.743,"0.74",0,1],[1.226,"1.23",1,1]];
var mk_b_GR = [[.232,"0.21",0,-1],[.416,"0.43",1,1],[.85,"0.85",0,1],[1.169,"1.15",1,1]];
var mk_c_DLW = [[.104,"0.11",0,1],[.548,"0.56",0,1]];
var mk_c_DEN = [[.075,"0.08",0,1],[.378,"0.39",1,1],[.656,"0.67",0,1],[1.184,"1.21",1,1]];
var mk_c_GR = [[.097,"0.13",0,1],[.342,"0.35",1,1],[1.212,"1.20",0,1]];

var table = {
  a: {DLW:[mem_a_DLW,mtm_a_DLW,c99_a_DLW,c95_a_DLW,mk_a_DLW], DEN:[mem_a_DEN,mtm_a_DEN,c99_a_DEN,c95_a_DEN,mk_a_DEN], GR:[mem_a_GR,mtm_a_GR,c99_a_GR,c95_a_GR,mk_a_GR]},
  b: {DLW:[mem_b_DLW,mtm_b_DLW,c99_b_DLW,c95_b_DLW,mk_b_DLW], DEN:[mem_b_DEN,mtm_b_DEN,c99_b_DEN,c95_b_DEN,mk_b_DEN], GR:[mem_b_GR,mtm_b_GR,c99_b_GR,c95_b_GR,mk_b_GR]},
  c: {DLW:[mem_c_DLW,mtm_c_DLW,c99_c_DLW,c95_c_DLW,mk_c_DLW], DEN:[mem_c_DEN,mtm_c_DEN,c99_c_DEN,c95_c_DEN,mk_c_DEN], GR:[mem_c_GR,mtm_c_GR,c99_c_GR,c95_c_GR,mk_c_GR]}
};

// axis ranges (log10) per site
var memDom = {DLW:[-3,5.03], DEN:[-3,5.04], GR:[-3.92,5.04]};
var mtmDom = {DLW:[-0.2,5.02], DEN:[-0.19,5.03], GR:[-0.55,5.03]};
var fMax = 2.49;

// layout
var cols = [{x0:41,x1:470},{x0:509,x1:942},{x0:983,x1:1413}];
var rowTop = [36, 791, 1546];
var memH = 301, gapH = 27, mtmH = 303;
var rowLay = [
  {title:44, conf:97, up:196, low:240, padM:7, padT:3, fl:35},
  {title:37, conf:91, up:171, low:211, padM:2, padT:0, fl:33},
  {title:37, conf:91, up:168, low:211, padM:2, padT:0, fl:33}
];

var svg = d3.select("#chart");
var p10 = function(v){ return Math.pow(10, v); };
var clipN = 0;

function clean(sel, size) {
  sel.select(".domain").remove();
  sel.selectAll(".tick line").attr("stroke", "#111").attr("stroke-width", 1.6);
  sel.attr("font-family", "Liberation Serif, Times New Roman, serif").attr("font-size", size || 18);
  sel.selectAll(".tick text").attr("fill", "#111");
}

function panel(g, x, y, t, b, labV, labT, pad) {
  var x0 = x.range()[0], x1 = x.range()[1];
  g.append("g").attr("transform", "translate(0," + b + ")")
    .call(d3.axisBottom(x).tickValues(xTickVals).tickSizeInner(-7).tickSizeOuter(0).tickPadding(pad)
      .tickFormat(function(v){ return v % 1 === 0 ? v : ""; }))
    .call(clean, 17);
  g.append("g").attr("transform", "translate(0," + t + ")")
    .call(d3.axisTop(x).tickValues(xTickVals).tickSizeInner(-7).tickSizeOuter(0).tickFormat(""))
    .call(clean);
  var dom = y.domain().map(Math.log10), minor = [], major = [];
  for (var k = Math.floor(dom[0]); k <= Math.ceil(dom[1]); k++) {
    for (var m = 1; m <= 9; m++) {
      var lv = Math.log10(m) + k;
      if (lv < dom[0] || lv > dom[1]) continue;
      (m === 1 ? major : minor).push(m * p10(k));
    }
  }
  g.append("g").attr("transform", "translate(" + x0 + ",0)")
    .call(d3.axisLeft(y).tickValues(minor).tickSizeInner(-4).tickSizeOuter(0).tickFormat(""))
    .call(clean).selectAll(".tick line").attr("stroke-width", 1);
  g.append("g").attr("transform", "translate(" + x0 + ",0)")
    .call(d3.axisLeft(y).tickValues(major).tickSizeInner(-8).tickSizeOuter(0).tickFormat(""))
    .call(clean);
  var lab = g.append("g").attr("transform", "translate(" + x0 + ",0)")
    .call(d3.axisLeft(y).tickValues(labV.map(p10)).tickSizeInner(3).tickSizeOuter(0).tickPadding(0)
      .tickFormat(function(d, i){ return labT[i]; }))
    .call(clean, 17);
  lab.selectAll(".tick text").attr("letter-spacing", "-1.5px");
  var id = "clip" + (clipN++);
  g.append("clipPath").attr("id", id).append("rect")
    .attr("x", x0).attr("y", t).attr("width", x1 - x0).attr("height", b - t);
  return id;
}

rowNames.forEach(function(r, ri) {
  var top = rowTop[ri], lay = rowLay[ri];
  var memB = top + memH, mt = memB + gapH, mb = mt + mtmH;
  svg.append("text").attr("class", "rowlab").attr("x", 3).attr("y", top - 7).text(r);

  sites.forEach(function(s, ci) {
    var d = table[r][s], c = cols[ci];
    var x = d3.scaleLinear().domain([0, fMax]).range([c.x0, c.x1]);
    var ym = d3.scaleLog().domain(memDom[s].map(p10)).range([memB, top]);
    var yt = d3.scaleLog().domain(mtmDom[s].map(p10)).range([mb, mt]);
    var g = svg.append("g");

    g.append("text").attr("class", "site").attr("x", (c.x0 + c.x1) / 2).attr("y", top - 5).text(s);

    var clipM = panel(g, x, ym, top, memB, memLabTicks, memLabs, lay.padM);
    var clipT = panel(g, x, yt, mt, mb, mtmLabTicks, mtmLabs, lay.padT);

    // MEM curve
    var lineM = d3.line().x(function(p){ return x(p[0]); }).y(function(p){ return ym(p10(p[1])); }).curve(d3.curveMonotoneX);
    g.append("path").attr("d", lineM(d[0])).attr("clip-path", "url(#" + clipM + ")")
      .attr("fill", "none").attr("stroke", "#333").attr("stroke-width", 1.3);

    // MTM curve + confidence
    var lineT = d3.line().x(function(p){ return x(p[0]); }).y(function(p){ return yt(p10(p[1])); });
    var lineC = d3.line().x(function(p){ return x(p[0]); }).y(function(p){ return yt(p10(p[1])); }).curve(d3.curveMonotoneX);
    g.append("path").attr("d", lineT(d[1])).attr("clip-path", "url(#" + clipT + ")")
      .attr("fill", "none").attr("stroke", "#555").attr("stroke-width", 1).attr("stroke-linejoin", "round");
    g.append("path").attr("d", lineC(d[2])).attr("clip-path", "url(#" + clipT + ")")
      .attr("fill", "none").attr("stroke", "#111").attr("stroke-width", 2);
    g.append("path").attr("d", lineC(d[3])).attr("clip-path", "url(#" + clipT + ")")
      .attr("fill", "none").attr("stroke", "#111").attr("stroke-width", 2).attr("stroke-dasharray", "15,8");

    // frames
    [[top, memB], [mt, mb]].forEach(function(tb) {
      g.append("rect").attr("x", c.x0).attr("y", tb[0]).attr("width", c.x1 - c.x0).attr("height", tb[1] - tb[0])
        .attr("fill", "none").attr("stroke", "#111").attr("stroke-width", 2.2);
    });

    // marked frequencies
    d[4].forEach(function(m) {
      var xl = x(m[0]), yu = top + (m[2] ? lay.low : lay.up), sd = m[3];
      g.append("line").attr("x1", xl).attr("x2", xl).attr("y1", top).attr("y2", mb)
        .attr("stroke", "#111").attr("stroke-width", 2);
      var elbow = xl + sd * (sd > 0 ? 9 : 5);
      var tx = g.append("text").attr("class", "call").attr("y", yu - 2).text(m[1]);
      if (sd < 0) tx.attr("letter-spacing", "-1.5px");
      var w = tx.node().getComputedTextLength();
      var far = elbow + sd * (w + (sd > 0 ? 4 : 1));
      tx.attr("x", sd > 0 ? elbow + 1 : far);
      g.append("path").attr("d", "M" + (xl + sd) + "," + (yu + 16) + "L" + elbow + "," + yu + "L" + far + "," + yu)
        .attr("fill", "none").attr("stroke", "#111").attr("stroke-width", 1.6);
    });

    // panel texts
    g.append("text").attr("class", "ttl").attr("x", c.x1 - 30).attr("y", top + lay.title).text("MEM spectrum");
    g.append("text").attr("class", "ttl").attr("x", c.x1 - 28).attr("y", mt + lay.title).text("MTM spectrum");
    g.append("text").attr("class", "conf").attr("x", c.x1 - 22).attr("y", mt + lay.conf).text("Confidence level");
    g.append("line").attr("x1", c.x1 - 138).attr("x2", c.x1 - 102).attr("y1", mt + 116).attr("y2", mt + 116)
      .attr("stroke", "#111").attr("stroke-width", 2);
    g.append("line").attr("x1", c.x1 - 138).attr("x2", c.x1 - 102).attr("y1", mt + 134).attr("y2", mt + 134)
      .attr("stroke", "#111").attr("stroke-width", 2).attr("stroke-dasharray", "9,6");
    g.append("text").attr("class", "pct").attr("x", c.x1 - 87).attr("y", mt + 123).text("99%");
    g.append("text").attr("class", "pct").attr("x", c.x1 - 87).attr("y", mt + 139).text("95%");

    var fl = g.append("text").attr("class", "freq").attr("x", (c.x0 + c.x1) / 2).attr("y", mb + lay.fl);
    fl.append("tspan").text("Frequency (cycles \u2022 m");
    fl.append("tspan").attr("font-size", 12).attr("dy", -9).text("-1");
    fl.append("tspan").attr("dy", 9).text(")");
  });
});
</script>
</body>
</html>
